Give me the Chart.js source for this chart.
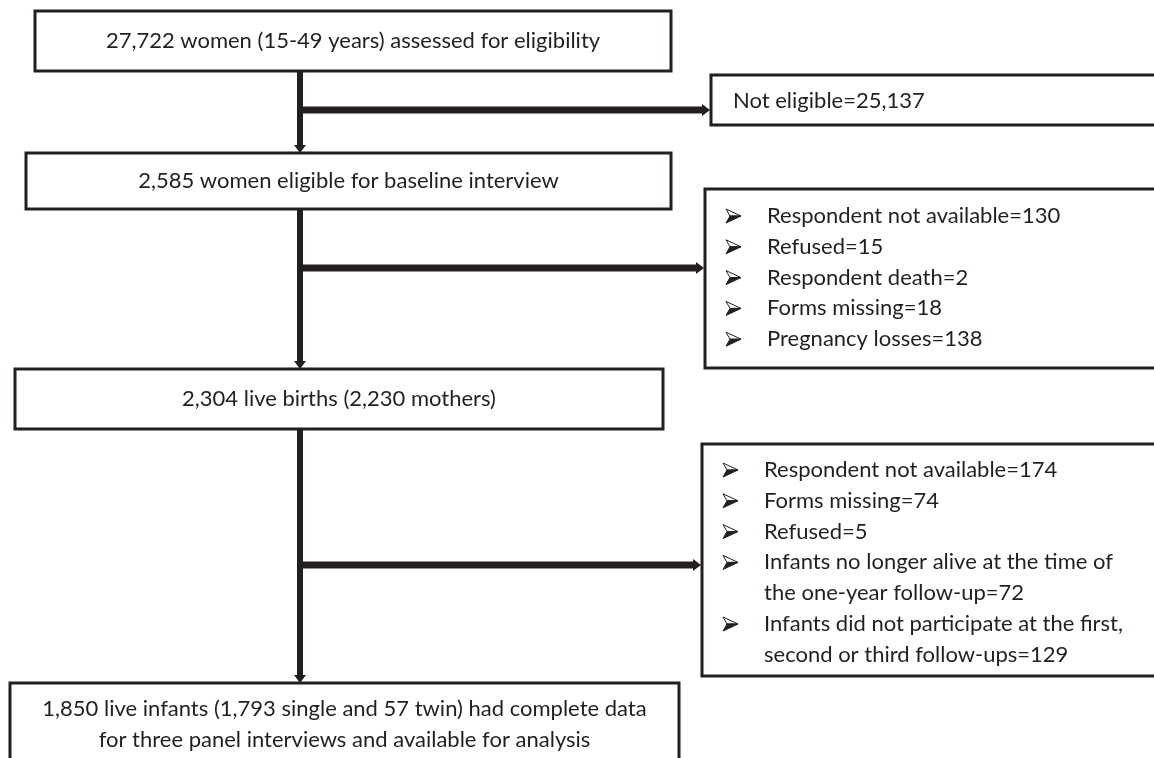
<!DOCTYPE html>
<html><head><meta charset="utf-8">
<script src="https://cdn.jsdelivr.net/npm/chart.js@4.4.1/dist/chart.umd.min.js"></script>
<style>html,body{margin:0;padding:0;background:#fff;overflow:hidden}canvas{display:block}</style>
</head><body><canvas id="c" width="1154" height="758"></canvas>
<script>
// ---- data ----
const stageLabels = [
  ["27,722 women (15-49 years) assessed for eligibility"],
  ["2,585 women eligible for baseline interview"],
  ["2,304 live births (2,230 mothers)"],
  ["1,850 live infants (1,793 single and 57 twin) had complete data", "for three panel interviews and available for analysis"]
];
const exclusion1Reasons = ["Not eligible"];
const exclusion1Counts = ["25,137"];
const exclusion2Reasons = ["Respondent not available", "Refused", "Respondent death", "Forms missing", "Pregnancy losses"];
const exclusion2Counts = [130, 15, 2, 18, 138];
const exclusion3Reasons = ["Respondent not available", "Forms missing", "Refused",
  "Infants no longer alive at the time of\nthe one-year follow-up",
  "Infants did not participate at the first,\nsecond or third follow-ups"];
const exclusion3Counts = [174, 74, 5, 72, 129];

// ---- layout (positions in chart value space) ----
const layout = {
  trunkX: 300,
  lineH: 30.8,
  stages: [
    {x0: 35, x1: 671, y0: 11, y1: 71, ty: 41},
    {x0: 26, x1: 671, y0: 153, y1: 209, ty: 181},
    {x0: 15, x1: 663, y0: 369, y1: 429, ty: 399},
    {x0: 10, x1: 679, y0: 683, y1: 790, ty: 709}
  ],
  sides: [
    {x0: 711, x1: 1170, y0: 75, y1: 125, arrowY: 110, firstY: 101, textDx: 22, bullets: false},
    {x0: 705, x1: 1170, y0: 189, y1: 368, arrowY: 268, firstY: 216, textDx: 62, bullets: true},
    {x0: 702, x1: 1170, y0: 444, y1: 676, arrowY: 565, firstY: 470, textDx: 62, bullets: true}
  ]
};
const ink = '#231f20';
const fontCss = '22px Lato, "Open Sans", sans-serif';

function sideLines(reasons, counts) {
  return reasons.map((r, i) => (r + '=' + counts[i]).split('\n'));
}
const sideItems = [
  sideLines(exclusion1Reasons, exclusion1Counts),
  sideLines(exclusion2Reasons, exclusion2Counts),
  sideLines(exclusion3Reasons, exclusion3Counts)
];

const flowPlugin = {
  id: 'flow',
  afterDraw(chart) {
    const {ctx, scales: {x, y}} = chart;
    const X = v => x.getPixelForValue(v), Y = v => y.getPixelForValue(v);
    ctx.save();
    ctx.strokeStyle = ink; ctx.fillStyle = ink;
    ctx.lineCap = 'butt'; ctx.lineJoin = 'miter';
    const tx = X(layout.trunkX);

    // vertical trunk segments with down arrowheads
    for (let i = 0; i < layout.stages.length - 1; i++) {
      const a = layout.stages[i], b = layout.stages[i + 1];
      const yTop = Y(a.y1), yBot = Y(b.y0);
      ctx.lineWidth = 6;
      ctx.beginPath(); ctx.moveTo(tx, yTop); ctx.lineTo(tx, yBot - 6); ctx.stroke();
      ctx.beginPath(); ctx.moveTo(tx - 6, yBot - 8); ctx.lineTo(tx + 6, yBot - 8); ctx.lineTo(tx, yBot); ctx.closePath(); ctx.fill();
    }
    // horizontal branches with right arrowheads
    layout.sides.forEach(s => {
      const ay = Y(s.arrowY), tip = X(s.x0) - 1;
      ctx.lineWidth = 7;
      ctx.beginPath(); ctx.moveTo(tx - 3, ay); ctx.lineTo(tip - 6, ay); ctx.stroke();
      ctx.beginPath(); ctx.moveTo(tip - 8, ay - 6); ctx.lineTo(tip, ay); ctx.lineTo(tip - 8, ay + 6); ctx.closePath(); ctx.fill();
    });

    // boxes
    ctx.lineWidth = 3;
    const box = b => {
      ctx.fillStyle = '#fff';
      ctx.fillRect(X(b.x0), Y(b.y0), X(b.x1) - X(b.x0), Y(b.y1) - Y(b.y0));
      ctx.strokeRect(X(b.x0), Y(b.y0), X(b.x1) - X(b.x0), Y(b.y1) - Y(b.y0));
    };
    layout.stages.forEach(box);
    layout.sides.forEach(box);

    // stage text
    ctx.fillStyle = ink; ctx.font = fontCss; ctx.textBaseline = 'middle'; ctx.textAlign = 'center';
    layout.stages.forEach((b, i) => {
      const cx = (X(b.x0) + X(b.x1)) / 2;
      stageLabels[i].forEach((t, j) => ctx.fillText(t, cx, Y(b.ty + j * layout.lineH)));
    });

    // side text
    ctx.textAlign = 'left';
    layout.sides.forEach((s, k) => {
      let row = 0;
      sideItems[k].forEach(lines => {
        lines.forEach((t, j) => {
          const yy = Y(s.firstY + row * layout.lineH);
          if (s.bullets && j === 0) drawBullet(ctx, X(s.x0) + 21, yy);
          ctx.fillStyle = ink;
          ctx.fillText(t, X(s.x0) + s.textDx, yy);
          row++;
        });
      });
    });
    ctx.restore();
  }
};

function drawBullet(ctx, bx, cy) {
  // 3D arrowhead bullet (like Wingdings ➢)
  ctx.save();
  ctx.lineWidth = 1; ctx.strokeStyle = ink; ctx.lineJoin = 'miter';
  ctx.beginPath(); ctx.moveTo(bx, cy - 7); ctx.lineTo(bx + 15, cy); ctx.lineTo(bx + 4, cy); ctx.closePath();
  ctx.fillStyle = '#fff'; ctx.fill(); ctx.stroke();
  ctx.beginPath(); ctx.moveTo(bx + 4, cy); ctx.lineTo(bx + 15, cy); ctx.lineTo(bx, cy + 7); ctx.closePath();
  ctx.fillStyle = ink; ctx.fill(); ctx.stroke();
  ctx.restore();
}

new Chart(document.getElementById('c'), {
  type: 'scatter',
  data: {datasets: [{data: [], pointRadius: 0}]},
  options: {
    responsive: false, animation: false,
    layout: {padding: 0},
    plugins: {legend: {display: false}, tooltip: {enabled: false}},
    scales: {
      x: {type: 'linear', min: 0, max: 1154, display: false},
      y: {type: 'linear', min: 0, max: 758, reverse: true, display: false}
    }
  },
  plugins: [flowPlugin]
});
</script></body></html>
